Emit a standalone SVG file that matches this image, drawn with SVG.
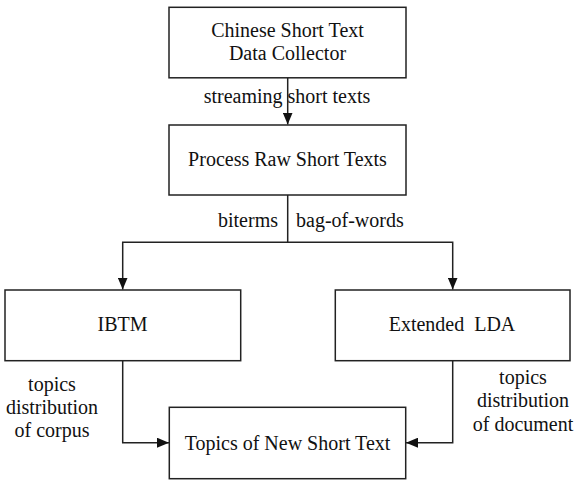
<svg xmlns="http://www.w3.org/2000/svg" width="576" height="485" viewBox="0 0 576 485">
<style>
.box{fill:#fff;stroke:#222;stroke-width:1.5}
.t{font-family:"Liberation Serif","Times New Roman",serif;font-size:20px;fill:#111;text-anchor:middle}
.ln{fill:none;stroke:#222;stroke-width:1.5}
</style>
<defs>
<marker id="ah" viewBox="0 0 12 10" refX="12" refY="5" markerWidth="12" markerHeight="10" markerUnits="userSpaceOnUse" orient="auto">
<path d="M0,0 L12,5 L0,10 Z" fill="#111"/>
</marker>
</defs>
<rect width="576" height="485" fill="#fff"/>
<g id="connectors">
<path class="ln" d="M287.7,78 V124.5" marker-end="url(#ah)"/>
<path class="ln" d="M287.7,195 V242.3 H122.7 V289.5" marker-end="url(#ah)"/>
<path class="ln" d="M287.7,242.3 H452.7 V289.5" marker-end="url(#ah)"/>
<path class="ln" d="M122.7,360.7 V442.7 H169" marker-end="url(#ah)"/>
<path class="ln" d="M452.7,360.7 V442.7 H406" marker-end="url(#ah)"/>
<text class="t" x="287" y="103">streaming short texts</text>
<text class="t" x="278" y="227" style="text-anchor:end">biterms</text>
<text class="t" x="296" y="227" style="text-anchor:start">bag-of-words</text>
<text class="t" x="52" y="391">topics</text>
<text class="t" x="52" y="414">distribution</text>
<text class="t" x="52" y="437">of corpus</text>
<text class="t" x="523" y="384">topics</text>
<text class="t" x="523" y="407">distribution</text>
<text class="t" x="523" y="431">of document</text>
</g>
<g id="collector">
<rect class="box" x="169" y="7.3" width="237" height="70.5"/>
<text class="t" x="287.5" y="37">Chinese Short Text</text>
<text class="t" x="287.5" y="60">Data Collector</text>
</g>
<g id="process">
<rect class="box" x="169" y="125" width="237" height="70"/>
<text class="t" x="287.5" y="166">Process Raw Short Texts</text>
</g>
<g id="ibtm">
<rect class="box" x="5" y="290" width="235.7" height="70.7"/>
<text class="t" x="122.5" y="331">IBTM</text>
</g>
<g id="lda">
<rect class="box" x="335.3" y="290" width="234.7" height="70.7"/>
<text class="t" x="452" y="331" style="white-space:pre">Extended  LDA</text>
</g>
<g id="topics">
<rect class="box" x="169.3" y="407.3" width="236.4" height="71.4"/>
<text class="t" x="287.5" y="449.5">Topics of New Short Text</text>
</g>
</svg>
